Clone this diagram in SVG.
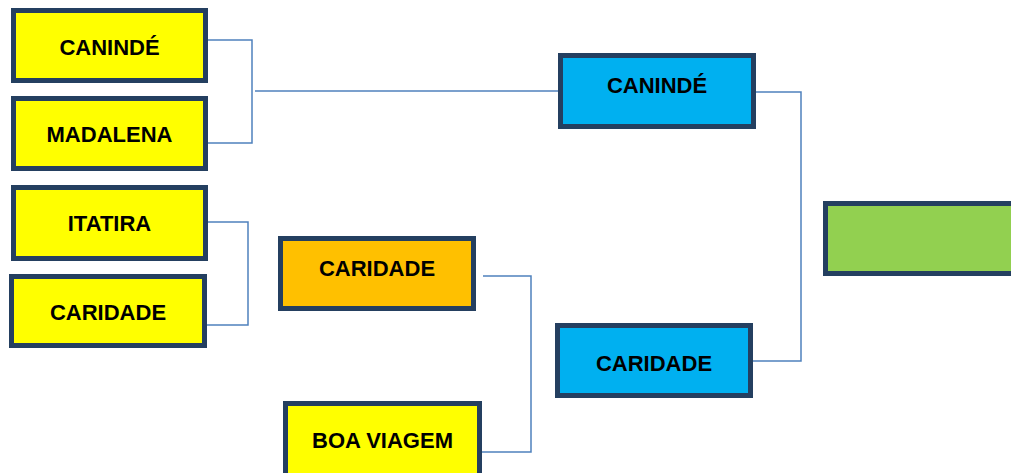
<svg xmlns="http://www.w3.org/2000/svg" width="1011" height="473" viewBox="0 0 1011 473">
<style>
.box{stroke:#243F60;stroke-width:5}
.y{fill:#FFFF00}.o{fill:#FFC000}.b{fill:#00B0F0}.g{fill:#92D050}
.t{font-family:"Liberation Sans",Arial,sans-serif;font-weight:bold;font-size:22px;fill:#000;text-anchor:middle}
.c{fill:none;stroke:#4F81BD;stroke-width:1.5}
</style>
<rect width="1011" height="473" fill="#fff"/>
<g id="connectors">
<path class="c" d="M208,40 H252 V143 H208"/>
<path class="c" d="M255,91 H560"/>
<path class="c" d="M208,222 H248 V325 H206"/>
<path class="c" d="M483,276 H531 V452 H478"/>
<path class="c" d="M756,92 H801 V361 H753"/>
</g>
<g id="n1"><rect class="box y" x="13.5" y="10.5" width="192" height="70"/><text class="t" x="109.5" y="55">CANINDÉ</text></g>
<g id="n2"><rect class="box y" x="13.5" y="98.5" width="192" height="70"/><text class="t" x="109.5" y="142">MADALENA</text></g>
<g id="n3"><rect class="box y" x="13.5" y="187.5" width="192" height="71"/><text class="t" x="109.5" y="231">ITATIRA</text></g>
<g id="n4"><rect class="box y" x="11.5" y="276.5" width="193" height="69"/><text class="t" x="108" y="320">CARIDADE</text></g>
<g id="n5"><rect class="box o" x="280.5" y="238.5" width="193" height="70"/><text class="t" x="377" y="276">CARIDADE</text></g>
<g id="n6"><rect class="box y" x="285.5" y="403.5" width="194" height="72"/><text class="t" x="382.5" y="448">BOA VIAGEM</text></g>
<g id="n7"><rect class="box b" x="560.5" y="55.5" width="193" height="71"/><text class="t" x="657" y="93">CANINDÉ</text></g>
<g id="n8"><rect class="box b" x="557.5" y="325.5" width="193" height="70"/><text class="t" x="654" y="371">CARIDADE</text></g>
<g id="n9"><rect class="box g" x="825.5" y="203.5" width="200" height="70"/></g>
</svg>
